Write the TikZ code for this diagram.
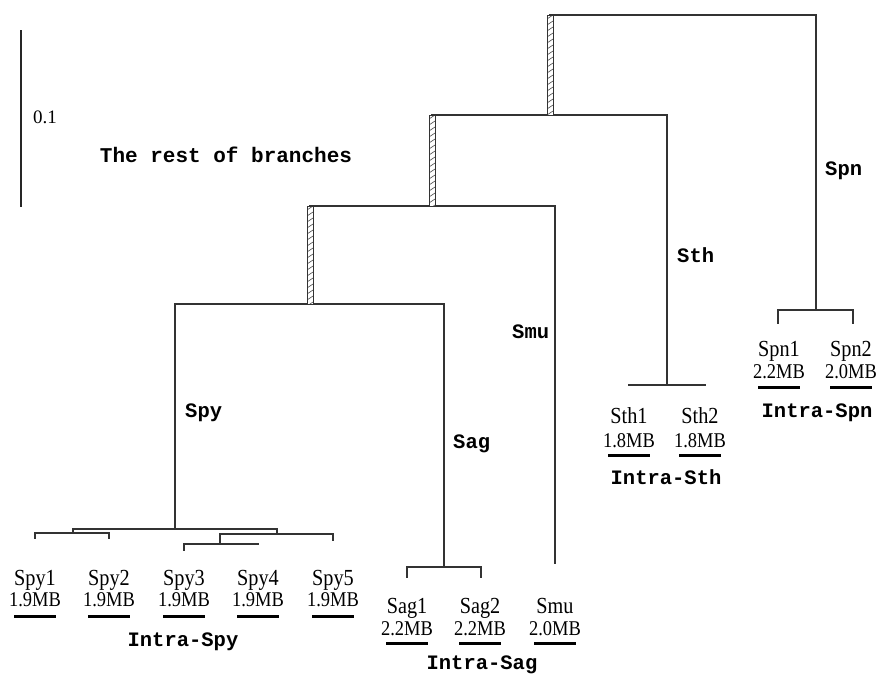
\documentclass[tikz,border=0pt]{standalone}
\usepackage{fontspec}
\setmainfont{Liberation Serif}
\setmonofont{Liberation Mono}
\newfontfamily\narrowserif[FakeStretch=0.88]{Liberation Serif}
\tikzset{
  branch/.style={line width=1.3pt, draw=black!80, line cap=rect},
  cladelbl/.style={font=\fontsize{20.5}{24}\selectfont\ttfamily\bfseries, anchor=base west, inner sep=0pt},
  grouplbl/.style={font=\fontsize{20.5}{24}\selectfont\ttfamily\bfseries, anchor=base, inner sep=0pt},
  leafname/.style={font=\narrowserif\fontsize{23}{26}\selectfont, anchor=base, inner sep=0pt},
  leafsize/.style={font=\narrowserif\fontsize{21}{24}\selectfont, anchor=base, inner sep=0pt},
  ubar/.style={fill=black, minimum width=42pt, minimum height=3pt, inner sep=0pt, anchor=center},
}
\newcommand\hatchbar[3]{%
  \fill[white] (#1-3,#2) rectangle (#1+3,#3);
  \begin{scope}
    \clip (#1-3,#2) rectangle (#1+3,#3);
    \foreach \k in {0,...,20} {\draw[line width=0.6pt, black!70] (#1-3,#2+\k*6+4) -- (#1+3,#2+\k*6);}
  \end{scope}
  \draw[line width=0.8pt, black!80] (#1-3,#2) rectangle (#1+3,#3);
}
\begin{document}
\begin{tikzpicture}[x=1pt, y=-1pt]
\useasboundingbox (0,0) rectangle (880,675);

% scale bar
\coordinate (sbtop) at (21,30);
\coordinate (sbbot) at (21,207);
\draw[line width=1.3pt, black!85] (sbtop) -- (sbbot);
\node[font=\fontsize{19}{22}\selectfont, anchor=base, inner sep=0pt] (scale) at (45,123) {0.1};
\node[grouplbl, font=\fontsize{21}{24}\selectfont\ttfamily\bfseries] (rest) at (226,162) {The rest of branches};

% internal coordinates
\coordinate (n1) at (550,15);
\coordinate (n1r) at (816,15);
\coordinate (spn) at (816,310);
\coordinate (n2) at (550,115);
\coordinate (n2l) at (432,115);
\coordinate (n2r) at (667,115);
\coordinate (sth) at (667,385);
\coordinate (n3) at (432,206);
\coordinate (n3l) at (310,206);
\coordinate (n3r) at (555,206);
\coordinate (smuend) at (555,563);
\coordinate (n4) at (310,304);
\coordinate (n4l) at (175,304);
\coordinate (n4r) at (444,304);
\coordinate (spy) at (175,529);
\coordinate (sag) at (444,567);

% Spn clade
\coordinate (spnl) at (778,310);
\coordinate (spnr) at (853,310);
\coordinate (spnlt) at (778,323);
\coordinate (spnrt) at (853,323);
% Sth clade
\coordinate (sthl) at (629,385);
\coordinate (sthr) at (705,385);
% Sag clade
\coordinate (sagl) at (407,567);
\coordinate (sagr) at (481,567);
\coordinate (saglt) at (407,577);
\coordinate (sagrt) at (481,577);
% Spy clade
\coordinate (spyl) at (73,529);
\coordinate (spyr) at (277,529);
\coordinate (a12) at (73,533);
\coordinate (a12l) at (35,533);
\coordinate (a12r) at (109,533);
\coordinate (t1) at (35,538);
\coordinate (t2) at (109,538);
\coordinate (a345) at (277,534);
\coordinate (a345l) at (220,534);
\coordinate (a345r) at (333,534);
\coordinate (t5) at (333,540);
\coordinate (a34) at (220,544);
\coordinate (a34l) at (184,544);
\coordinate (a34r) at (258,544);
\coordinate (t3) at (184,550);

% branches
\draw[branch] (n1) -- (n1r) -- (spn);
\draw[branch] (spnlt) -- (spnl) -- (spnr) -- (spnrt);
\draw[branch] (n2l) -- (n2r) -- (sth);
\draw[branch] (sthl) -- (sthr);
\draw[branch] (n3l) -- (n3r) -- (smuend);
\draw[branch] (spy) -- (n4l) -- (n4r) -- (sag);
\draw[branch] (saglt) -- (sagl) -- (sagr) -- (sagrt);
\draw[branch] (spyl) -- (spyr);
\draw[branch] (spyl) -- (a12);
\draw[branch] (t1) -- (a12l) -- (a12r) -- (t2);
\draw[branch] (spyr) -- (a345);
\draw[branch] (a345l) -- (a345r) -- (t5);
\draw[branch] (a345l) -- (a34);
\draw[branch] (t3) -- (a34l) -- (a34r);

% hatched branches
\hatchbar{550}{15}{115}
\hatchbar{432}{115}{206}
\hatchbar{310}{206}{304}

% clade labels
\node[cladelbl] (lspn) at (825,175) {Spn};
\node[cladelbl] (lsth) at (677,262) {Sth};
\node[cladelbl] (lsmu) at (512,338) {Smu};
\node[cladelbl] (lspy) at (185,417) {Spy};
\node[cladelbl] (lsag) at (453,448) {Sag};

% Spy leaves
\node[leafname] (spy1) at (35,585) {Spy1};
\node[leafname] (spy2) at (109,585) {Spy2};
\node[leafname] (spy3) at (184,585) {Spy3};
\node[leafname] (spy4) at (258,585) {Spy4};
\node[leafname] (spy5) at (333,585) {Spy5};
\node[leafsize] (spy1s) at (35,606) {1.9MB};
\node[leafsize] (spy2s) at (109,606) {1.9MB};
\node[leafsize] (spy3s) at (184,606) {1.9MB};
\node[leafsize] (spy4s) at (258,606) {1.9MB};
\node[leafsize] (spy5s) at (333,606) {1.9MB};
\node[ubar] (spy1b) at (35,616) {};
\node[ubar] (spy2b) at (109,616) {};
\node[ubar] (spy3b) at (184,616) {};
\node[ubar] (spy4b) at (258,616) {};
\node[ubar] (spy5b) at (333,616) {};
\node[grouplbl] (ispy) at (183,646) {Intra-Spy};

% Sag / Smu leaves
\node[leafname] (sag1) at (407,613) {Sag1};
\node[leafname] (sag2) at (480,613) {Sag2};
\node[leafname] (smu) at (555,613) {Smu};
\node[leafsize] (sag1s) at (407,635) {2.2MB};
\node[leafsize] (sag2s) at (480,635) {2.2MB};
\node[leafsize] (smus) at (555,635) {2.0MB};
\node[ubar] (sag1b) at (407,643) {};
\node[ubar] (sag2b) at (480,643) {};
\node[ubar] (smub) at (555,643) {};
\node[grouplbl] (isag) at (482,669) {Intra-Sag};

% Sth leaves
\node[leafname] (sth1) at (629,423) {Sth1};
\node[leafname] (sth2) at (700,423) {Sth2};
\node[leafsize] (sth1s) at (629,447) {1.8MB};
\node[leafsize] (sth2s) at (700,447) {1.8MB};
\node[ubar] (sth1b) at (629,455) {};
\node[ubar] (sth2b) at (700,455) {};
\node[grouplbl] (isth) at (666,484) {Intra-Sth};

% Spn leaves
\node[leafname] (spn1) at (779,356) {Spn1};
\node[leafname] (spn2) at (851,356) {Spn2};
\node[leafsize] (spn1s) at (779,378) {2.2MB};
\node[leafsize] (spn2s) at (851,378) {2.0MB};
\node[ubar] (spn1b) at (779,387) {};
\node[ubar] (spn2b) at (851,387) {};
\node[grouplbl] (ispn) at (817,417) {Intra-Spn};
\end{tikzpicture}
\end{document}
